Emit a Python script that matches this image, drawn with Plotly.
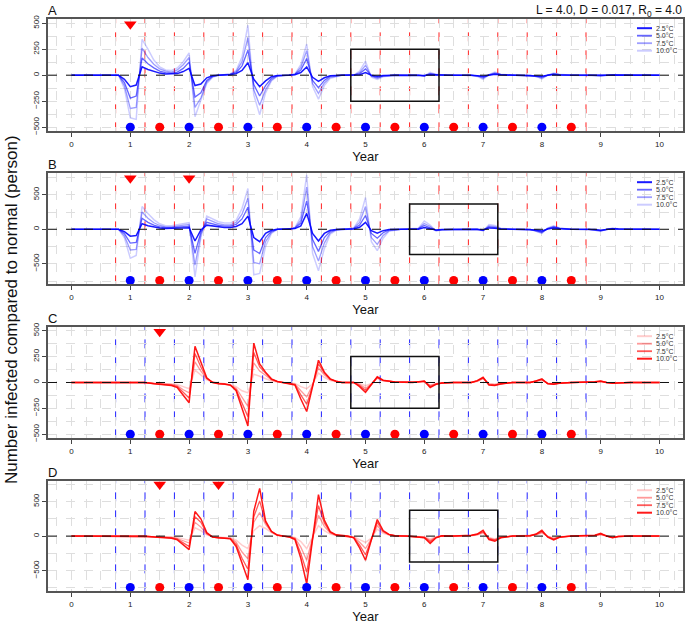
import plotly.graph_objects as go

W, H = 685, 625
FONT = "Liberation Sans, Arial, sans-serif"

temps = ["2.5°C", "5.0°C", "7.5°C", "10.0°C"]

# ---------------- Panel A ----------------
t_A = [0, 0.8, 0.9, 1.0, 1.1, 1.2, 1.3, 1.4, 1.5, 1.6,
       1.7, 1.8, 1.9, 2.0, 2.1, 2.2, 2.3, 2.4, 2.5, 2.7,
       2.8, 2.9, 3.0, 3.1, 3.2, 3.3, 3.4, 3.5, 3.7, 3.8,
       3.9, 4.0, 4.1, 4.2, 4.3, 4.4, 4.6, 4.8, 4.9, 5.0,
       5.1, 5.2, 5.3, 5.5, 5.9, 6.0, 6.1, 6.2, 6.4, 6.8,
       6.9, 7.0, 7.1, 7.2, 7.3, 7.5, 7.8, 7.9, 8.0, 8.1,
       8.2, 8.3, 8.5, 8.8, 8.9, 9.0, 9.1, 9.2, 9.3, 9.5,
       10.0]
A_25 = [0, 0, -40, -110, -95, 80, 55, 35, 20, 12,
        10, 15, 35, 65, -100, -85, -25, -5, 0, 5,
        15, 45, 120, -40, -110, -55, -15, -3, 0, 5,
        25, 80, -20, -60, -25, -5, 0, 0, 5, 25,
        0, -10, -3, 0, 0, -3, 5, 2, 0, 0,
        -3, -10, 0, 8, 3, 0, 0, -3, -10, 0,
        6, 2, 0, 0, -2, -4, 0, 2, 1, 0,
        0]
A_50 = [0, 0, -70, -220, -200, 165, 110, 70, 40, 25,
        20, 30, 65, 125, -210, -170, -50, -10, 0, 8,
        25, 90, 240, -90, -200, -100, -30, -5, 0, 8,
        50, 160, -50, -120, -50, -10, 0, 0, 15, 60,
        -5, -20, -6, 0, 0, -6, 12, 4, 0, 0,
        -5, -20, 2, 15, 5, 0, 0, -6, -18, 0,
        10, 4, 0, 0, -3, -6, 0, 3, 1, 0,
        0]
A_75 = [0, 0, -100, -320, -310, 260, 170, 105, 60, 38,
        30, 50, 100, 170, -310, -220, -65, -15, 0, 10,
        35, 130, 360, -140, -290, -140, -45, -8, 0, 10,
        75, 235, -80, -175, -75, -20, 0, 0, 25, 95,
        -10, -30, -10, 0, 0, -8, 18, 6, 0, 0,
        -8, -30, 4, 22, 8, 0, 0, -10, -27, 0,
        15, 6, 0, 0, -4, -8, 0, 4, 2, 0,
        0]
A_100 = [0, 0, -130, -410, -425, 345, 250, 145, 80, 50,
         45, 70, 130, 215, -400, -250, -80, -20, 0, 12,
         45, 175, 480, -190, -380, -170, -55, -10, 0, 12,
         100, 300, -110, -230, -100, -30, 0, 0, 40, 135,
         -20, -40, -15, 0, 0, -10, 28, 8, 0, 0,
         -12, -40, 5, 30, 10, 0, 0, -12, -35, 0,
         20, 8, 0, 0, -5, -10, 0, 5, 2, 0,
         0]

# ---------------- Panel B ----------------
t_B = [0, 0.8, 0.9, 1.0, 1.1, 1.2, 1.3, 1.4, 1.5, 1.6,
       1.7, 1.8, 1.9, 2.0, 2.1, 2.2, 2.3, 2.4, 2.5, 2.6,
       2.7, 2.8, 2.9, 3.0, 3.1, 3.2, 3.3, 3.4, 3.5, 3.7,
       3.8, 3.9, 4.0, 4.1, 4.2, 4.3, 4.4, 4.5, 4.7, 4.8,
       4.9, 5.0, 5.1, 5.2, 5.3, 5.4, 5.6, 5.9, 6.0, 6.1,
       6.2, 6.3, 6.5, 6.9, 7.0, 7.1, 7.2, 7.3, 7.5, 7.8,
       7.9, 8.0, 8.1, 8.2, 8.3, 8.5, 8.8, 8.9, 9.0, 9.1,
       9.2, 9.3, 9.5, 10.0]
B_25 = [0, 0, -35, -100, -90, 80, 50, 30, 18, 12,
        12, 15, 20, 22, -170, -10, 60, 45, 30, 25,
        25, 40, 80, 190, -120, -180, -60, -15, 0, 0,
        10, 50, 230, -60, -170, -60, -15, -3, 0, 5,
        30, 100, -20, -55, -20, -5, 0, 0, 25, 10,
        -10, -3, 0, 0, -10, 20, 15, 3, 0, 0,
        -10, -25, 5, 20, 8, 0, 0, -5, -15, 0,
        8, 3, 0, 0]
B_50 = [0, 0, -65, -200, -190, 160, 100, 60, 35, 22,
        22, 30, 40, 45, -350, -40, 100, 75, 55, 45,
        45, 70, 150, 320, -300, -350, -120, -30, 0, 0,
        15, 90, 410, -150, -320, -120, -30, -5, 0, 10,
        60, 200, -60, -130, -50, -10, 0, 5, 55, 20,
        -15, -5, 0, 0, -15, 35, 25, 6, 0, 0,
        -20, -40, 10, 30, 12, 0, 0, -8, -20, 0,
        10, 4, 0, 0]
B_75 = [0, 0, -95, -300, -290, 250, 160, 95, 55, 35,
        35, 45, 60, 70, -520, -80, 150, 110, 80, 65,
        65, 100, 220, 450, -480, -500, -180, -45, 0, 0,
        20, 130, 610, -250, -460, -200, -50, -10, 0, 15,
        100, 330, -120, -220, -90, -20, 0, 10, 85, 40,
        -20, -8, 0, 0, -20, 50, 40, 10, 0, 0,
        -25, -50, 15, 40, 16, 0, 0, -12, -25, 0,
        13, 5, 0, 0]
B_100 = [0, 0, -125, -420, -380, 330, 230, 140, 80, 50,
         50, 65, 85, 95, -690, -120, 190, 150, 110, 90,
         90, 130, 300, 590, -660, -640, -250, -60, 0, 0,
         25, 180, 790, -350, -600, -280, -70, -15, 0, 20,
         150, 460, -180, -310, -130, -30, 0, 15, 120, 60,
         -25, -10, 0, 0, -25, 70, 55, 15, 0, 0,
         -30, -60, 20, 50, 20, 0, 0, -15, -30, 0,
         15, 6, 0, 0]

# ---------------- Panel C ----------------
t_C = [0, 1.25, 1.4, 1.5, 1.6, 1.7, 1.8, 1.9, 2.0, 2.1,
       2.2, 2.3, 2.4, 2.5, 2.6, 2.7, 2.8, 2.9, 3.0, 3.1,
       3.2, 3.3, 3.4, 3.5, 3.6, 3.7, 3.8, 3.9, 4.0, 4.1,
       4.2, 4.3, 4.4, 4.5, 4.6, 4.8, 4.9, 5.0, 5.1, 5.2,
       5.3, 5.5, 5.8, 5.9, 6.0, 6.1, 6.2, 6.3, 6.5, 6.8,
       6.9, 7.0, 7.1, 7.2, 7.3, 7.5, 7.8, 7.9, 8.0, 8.1,
       8.2, 8.3, 8.5, 8.9, 9.0, 9.1, 9.2, 9.3, 9.5, 10.0]
C_25 = [0, 0, -5, -8, -10, -12, -20, -40, -60, 120,
        70, 25, 5, -5, -10, -20, -40, -80, -100, 80,
        60, 40, 15, 5, 0, -3, -10, -40, -60, -15,
        90, 50, 20, 8, 0, 0, -10, -30, -10, 40,
        15, 5, 0, 3, 8, -25, -10, -5, 0, 0,
        10, 35, -10, -15, -8, 0, 0, 8, 20, -5,
        -10, -5, 0, 3, 8, 0, -5, -2, 0, 0]
C_50 = [0, 0, -8, -12, -15, -18, -30, -70, -100, 200,
        110, 35, 5, -8, -12, -25, -55, -140, -230, 190,
        110, 70, 25, 8, 0, -5, -15, -80, -140, -25,
        140, 75, 28, 10, 0, 0, -20, -55, -15, 45,
        18, 5, 0, 4, 10, -30, -12, -5, 0, 0,
        12, 40, -15, -20, -10, 0, 0, 10, 25, -8,
        -12, -6, 0, 4, 10, 0, -6, -3, 0, 0]
C_75 = [0, 0, -10, -15, -20, -25, -40, -100, -150, 280,
        150, 40, 0, -10, -15, -25, -70, -200, -330, 290,
        150, 90, 30, 10, 0, -8, -20, -120, -210, -35,
        180, 90, 32, 12, 0, 0, -30, -75, -20, 50,
        20, 5, 0, 5, 12, -40, -15, -5, 0, 0,
        15, 45, -20, -25, -12, 0, 0, 12, 30, -10,
        -15, -7, 0, 5, 12, 0, -7, -3, 0, 0]
C_100 = [0, 0, -12, -18, -25, -30, -50, -120, -195, 350,
         190, 45, 0, -12, -15, -25, -80, -250, -420, 380,
         180, 100, 35, 10, 0, -10, -25, -160, -280, -40,
         215, 100, 35, 12, 0, 0, -40, -95, -25, 55,
         22, 5, 0, 6, 14, -48, -18, -5, 0, 0,
         18, 50, -25, -30, -15, 0, 0, 15, 35, -12,
         -18, -8, 0, 6, 14, 0, -8, -4, 0, 0]

# ---------------- Panel D ----------------
t_D = [0, 1.25, 1.4, 1.5, 1.6, 1.7, 1.8, 1.9, 2.0, 2.1,
       2.2, 2.3, 2.4, 2.5, 2.6, 2.7, 2.8, 2.9, 3.0, 3.1,
       3.2, 3.3, 3.4, 3.5, 3.6, 3.7, 3.8, 3.9, 4.0, 4.1,
       4.2, 4.3, 4.4, 4.5, 4.6, 4.7, 4.8, 4.9, 5.0, 5.1,
       5.2, 5.3, 5.4, 5.5, 5.7, 6.0, 6.1, 6.2, 6.3, 6.5,
       6.8, 6.9, 7.0, 7.1, 7.2, 7.3, 7.5, 7.8, 7.9, 8.0,
       8.1, 8.2, 8.3, 8.5, 8.9, 9.0, 9.1, 9.2, 9.3, 9.5,
       10.0]
D_25 = [0, 0, -5, -8, -10, -12, -20, -40, -60, 120,
        80, 20, -10, -15, -20, -25, -60, -130, -180, 80,
        150, 110, 50, 10, 0, -5, -20, -80, -180, -10,
        150, 80, 30, 10, 5, 0, -10, -50, -90, -30,
        100, 40, 15, 5, 0, -10, -40, -10, 5, 0,
        5, 15, 40, -20, -40, -10, 0, 5, 15, 40,
        0, -25, -10, 0, 5, 20, 0, -15, -5, 0,
        0]
D_50 = [0, 0, -8, -12, -15, -18, -35, -70, -100, 200,
        130, 30, -15, -20, -25, -30, -90, -230, -330, 200,
        340, 170, 60, 12, 0, -8, -30, -160, -350, -20,
        300, 140, 45, 12, 5, 0, -15, -90, -180, -40,
        150, 60, 20, 5, 0, -15, -60, -15, 5, 0,
        8, 20, 55, -30, -50, -15, 0, 5, 20, 55,
        -5, -35, -12, 0, 8, 25, 0, -18, -5, 0,
        0]
D_75 = [0, 0, -10, -15, -20, -25, -45, -100, -150, 280,
        200, 40, -15, -25, -30, -35, -120, -320, -480, 280,
        510, 200, 65, 15, 0, -10, -40, -250, -520, -30,
        440, 190, 55, 15, 5, 0, -20, -130, -270, -50,
        200, 70, 20, 5, 0, -20, -80, -20, 5, 0,
        10, 25, 65, -40, -60, -20, 0, 5, 25, 65,
        -10, -45, -15, 0, 10, 30, 0, -20, -6, 0,
        0]
D_100 = [0, 0, -12, -18, -25, -30, -55, -130, -195, 355,
         250, 50, -15, -25, -30, -40, -150, -400, -630, 360,
         690, 220, 70, 15, 0, -12, -50, -320, -690, -40,
         600, 230, 65, 18, 5, 0, -25, -170, -350, -60,
         240, 80, 25, 5, 0, -25, -105, -25, 5, 0,
         12, 30, 85, -50, -75, -25, 0, 5, 30, 85,
         -15, -55, -18, 0, 12, 40, 0, -25, -6, 0,
         0]

# ---------------- markers / annotations data ----------------
x_ticks = [0, 1, 2, 3, 4, 5, 6, 7, 8, 9, 10]
season_bounds = [0.75, 1.25, 1.75, 2.25, 2.75, 3.25, 3.75, 4.25, 4.75,
                 5.25, 5.75, 6.25, 6.75, 7.25, 7.75, 8.25, 8.75]
blue_dot_years = [1, 2, 3, 4, 5, 6, 7, 8]
red_dot_years = [1.5, 2.5, 3.5, 4.5, 5.5, 6.5, 7.5, 8.5]
trigger_A = [1]
trigger_B = [1, 2]
trigger_C = [1.5]
trigger_D = [1.5, 2.5]
zoom_box_A = (4.75, 6.25, -250, 250)
zoom_box_B = (5.75, 7.25, -365, 365)
zoom_box_C = (4.75, 6.25, -250, 250)
zoom_box_D = (5.75, 7.25, -375, 375)

panels = [
    dict(label="A", t=t_A, series=[A_25, A_50, A_75, A_100], hue="blue",
         trig=trigger_A, box=zoom_box_A, yr=[-540, 542], dtick=250, minor=125,
         dot_y=-500, trig_y=490, top=15, bottom=129),
    dict(label="B", t=t_B, series=[B_25, B_50, B_75, B_100], hue="blue",
         trig=trigger_B, box=zoom_box_B, yr=[-798, 818], dtick=500, minor=250,
         dot_y=-742, trig_y=740, top=171, bottom=284),
    dict(label="C", t=t_C, series=[C_25, C_50, C_75, C_100], hue="red",
         trig=trigger_C, box=zoom_box_C, yr=[-540, 538], dtick=250, minor=125,
         dot_y=-500, trig_y=490, top=327, bottom=440),
    dict(label="D", t=t_D, series=[D_25, D_50, D_75, D_100], hue="red",
         trig=trigger_D, box=zoom_box_D, yr=[-800, 800], dtick=500, minor=250,
         dot_y=-742, trig_y=745, top=483, bottom=595),
]

blue_alpha = [0.9, 0.6, 0.38, 0.2]
red_alpha = [0.2, 0.4, 0.65, 0.9]
line_w = [1.5, 1.3, 1.3, 1.5]

LEFT, RIGHT = 48, 683
# window pixel -> paper coordinate
px = lambda v: v / W
py = lambda v: 1 - v / H

fig = go.Figure()
shapes = []
annotations = []
GRID = "#dedede"

for i, p in enumerate(panels):
    n = "" if i == 0 else str(i + 1)
    xa, ya = "x" + n, "y" + n
    hue_rgb = "0,0,255" if p["hue"] == "blue" else "255,0,0"
    alphas = blue_alpha if p["hue"] == "blue" else red_alpha
    bound_col = "#FF2020" if p["hue"] == "blue" else "#2020FF"

    fig.update_layout(**{
        "xaxis" + n: dict(
            domain=[px(LEFT), px(RIGHT)], anchor=ya, range=[-0.4, 10.4],
            tickvals=x_ticks, ticks="outside", ticklen=4, tickcolor="#444",
            tickfont=dict(size=8, color="#222"),
            showline=True, mirror=True, linecolor="#555", linewidth=1.5,
            showgrid=True, gridcolor=GRID, griddash="dash", gridwidth=1,
            minor=dict(dtick=0.25, tick0=0, showgrid=True, gridcolor=GRID,
                       griddash="dash", gridwidth=1),
            zeroline=False,
            title=dict(text="Year", font=dict(size=13, color="#111"), standoff=2),
        ),
        "yaxis" + n: dict(
            domain=[py(p["bottom"]), py(p["top"])], anchor=xa, range=p["yr"],
            dtick=p["dtick"], tick0=0, ticks="outside", ticklen=4, tickcolor="#444",
            tickangle=-90, tickfont=dict(size=8, color="#222"),
            showline=True, mirror=True, linecolor="#555", linewidth=1.5,
            showgrid=True, gridcolor=GRID, griddash="dash", gridwidth=1,
            minor=dict(dtick=p["minor"], tick0=0, showgrid=True, gridcolor=GRID,
                       griddash="dash", gridwidth=1),
            zeroline=False,
        ),
    })

    # season boundaries
    for b in season_bounds:
        shapes.append(dict(type="line", xref=xa, yref=ya + " domain", x0=b, x1=b,
                           y0=0, y1=1, layer="below",
                           line=dict(color=bound_col, width=1, dash="dash")))
    # zero line
    shapes.append(dict(type="line", xref=xa + " domain", yref=ya, x0=0, x1=1,
                       y0=0, y1=0, line=dict(color="#111", width=1, dash="dash")))
    # zoom box
    bx0, bx1, by0, by1 = p["box"]
    shapes.append(dict(type="rect", xref=xa, yref=ya, x0=bx0, x1=bx1, y0=by0, y1=by1,
                       line=dict(color="#111", width=1.5)))

    # series lines
    order = [3, 2, 1, 0] if p["hue"] == "blue" else [0, 1, 2, 3]
    for k in order:
        fig.add_trace(go.Scatter(
            x=p["t"], y=p["series"][k], mode="lines", xaxis=xa, yaxis=ya,
            line=dict(color=f"rgba({hue_rgb},{alphas[k]})", width=line_w[k]),
            name=temps[k], showlegend=False, hoverinfo="skip"))

    # dots
    fig.add_trace(go.Scatter(x=blue_dot_years, y=[p["dot_y"]] * len(blue_dot_years),
                             mode="markers", xaxis=xa, yaxis=ya, showlegend=False,
                             hoverinfo="skip", marker=dict(color="#0000FF", size=9)))
    fig.add_trace(go.Scatter(x=red_dot_years, y=[p["dot_y"]] * len(red_dot_years),
                             mode="markers", xaxis=xa, yaxis=ya, showlegend=False,
                             hoverinfo="skip", marker=dict(color="#FF0000", size=9)))
    fig.add_trace(go.Scatter(x=p["trig"], y=[p["trig_y"]] * len(p["trig"]),
                             mode="markers", xaxis=xa, yaxis=ya, showlegend=False,
                             hoverinfo="skip",
                             marker=dict(color="#FF0000", size=11, symbol="triangle-down")))

    # custom legend (compact, like the reference)
    for k in range(4):
        yy = p["top"] + 9.5 + 7.6 * k
        shapes.append(dict(type="line", xref="paper", yref="paper",
                           x0=px(637), x1=px(652), y0=py(yy), y1=py(yy),
                           line=dict(color=f"rgba({hue_rgb},{alphas[k]})",
                                     width=line_w[k] + 0.5)))
        annotations.append(dict(xref="paper", yref="paper", x=px(654), y=py(yy),
                                text=temps[k], showarrow=False, xanchor="left",
                                yanchor="middle", height=7,
                                font=dict(size=7, color="#333", family=FONT)))

    # panel label
    annotations.append(dict(xref="paper", yref="paper", x=px(46), y=py(p["top"] - 8),
                            text=p["label"], showarrow=False, xanchor="left",
                            yanchor="middle", font=dict(size=13, color="#111")))

# title
annotations.append(dict(xref="paper", yref="paper", x=px(684), y=py(7),
                        text="L = 4.0, D = 0.017, R<sub>0</sub> = 4.0", showarrow=False,
                        xanchor="right", yanchor="middle",
                        font=dict(size=12, color="#111")))
# y title
annotations.append(dict(xref="paper", yref="paper", x=px(11), y=py(310),
                        text="Number infected compared to normal (person)",
                        showarrow=False, textangle=-90, xanchor="center", yanchor="middle",
                        font=dict(size=17, color="#111")))

fig.update_layout(
    width=W, height=H, margin=dict(l=0, r=0, t=0, b=0),
    paper_bgcolor="white", plot_bgcolor="white",
    font=dict(family=FONT, color="#111"),
    shapes=shapes, annotations=annotations, showlegend=False,
    hovermode=False,
)

# remove the default 8px page margin so the figure sits at the window corner
fig.write_html("out.html",
               config={"displayModeBar": False},
               post_script="document.body.style.margin='0';document.body.style.overflow='hidden';")
